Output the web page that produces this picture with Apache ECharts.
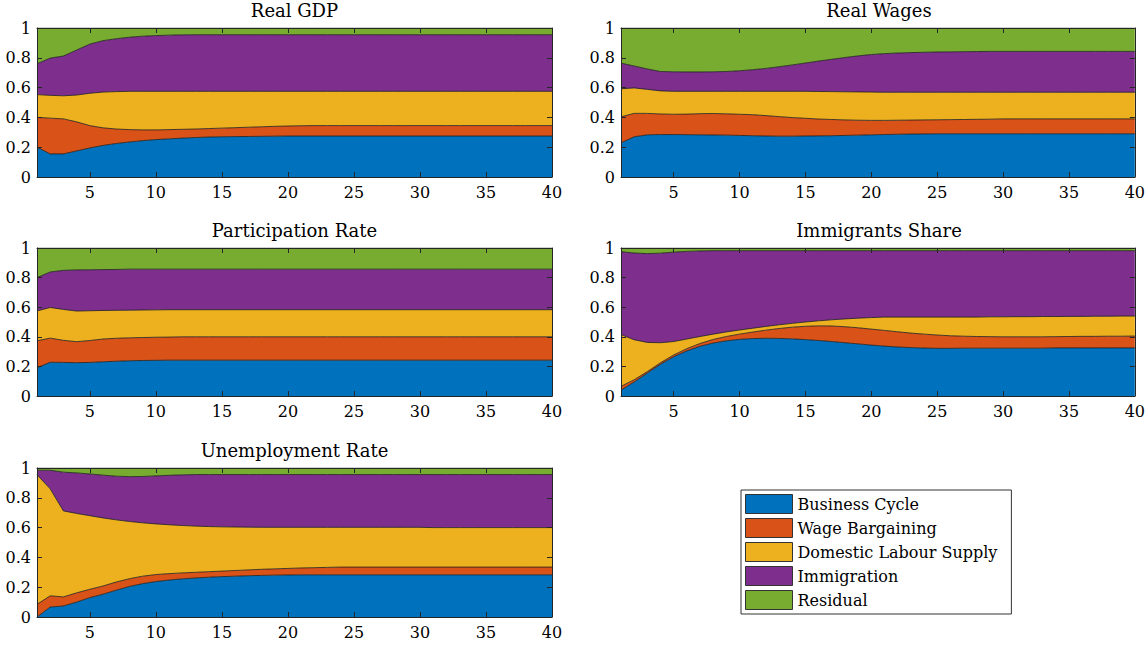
<!DOCTYPE html>
<html>
<head>
<meta charset="utf-8">
<script src="https://cdn.jsdelivr.net/npm/echarts@6/dist/echarts.min.js"></script>
<style>
html,body{margin:0;padding:0;background:#fff;}
#chart{width:1148px;height:649px;}
</style>
</head>
<body>
<div id="chart"></div>
<script>
// ---- categories / labels ----
const periods = [1,2,3,4,5,6,7,8,9,10,11,12,13,14,15,16,17,18,19,20,21,22,23,24,25,26,27,28,29,30,31,32,33,34,35,36,37,38,39,40];
const xTicks = [5,10,15,20,25,30,35,40];
const seriesNames = ['Business Cycle','Wage Bargaining','Domestic Labour Supply','Immigration','Residual'];
const panelTitles = ['Real GDP','Real Wages','Participation Rate','Immigrants Share','Unemployment Rate'];

// ---- Real GDP ----
const gdpBusiness = [0.200,0.155,0.155,0.175,0.195,0.212,0.225,0.235,0.244,0.251,
  0.256,0.261,0.265,0.268,0.270,0.271,0.272,0.273,0.274,0.275,
  0.275,0.275,0.275,0.275,0.275,0.275,0.275,0.275,0.275,0.275,
  0.275,0.275,0.275,0.275,0.275,0.275,0.275,0.275,0.275,0.275];
const gdpWage = [0.200,0.240,0.235,0.195,0.150,0.118,0.097,0.083,0.072,0.065,
  0.062,0.059,0.057,0.057,0.058,0.060,0.062,0.064,0.066,0.067,
  0.069,0.070,0.070,0.070,0.070,0.070,0.070,0.070,0.070,0.070,
  0.070,0.070,0.070,0.070,0.070,0.070,0.070,0.070,0.070,0.070];
const gdpDomestic = [0.153,0.153,0.155,0.180,0.217,0.240,0.251,0.257,0.259,0.259,
  0.257,0.255,0.253,0.250,0.247,0.244,0.241,0.238,0.235,0.233,
  0.231,0.230,0.230,0.230,0.230,0.230,0.230,0.230,0.230,0.230,
  0.230,0.230,0.230,0.230,0.230,0.230,0.230,0.230,0.230,0.230];
const gdpImmigration = [0.207,0.250,0.267,0.302,0.330,0.345,0.355,0.363,0.370,0.374,
  0.377,0.379,0.380,0.380,0.380,0.380,0.380,0.380,0.380,0.380,
  0.380,0.380,0.380,0.380,0.380,0.380,0.380,0.380,0.380,0.380,
  0.380,0.380,0.380,0.380,0.380,0.380,0.380,0.380,0.380,0.380];
const gdpResidual = [0.240,0.202,0.188,0.148,0.108,0.085,0.072,0.062,0.055,0.051,
  0.048,0.046,0.045,0.045,0.045,0.045,0.045,0.045,0.045,0.045,
  0.045,0.045,0.045,0.045,0.045,0.045,0.045,0.045,0.045,0.045,
  0.045,0.045,0.045,0.045,0.045,0.045,0.045,0.045,0.045,0.045];

// ---- Real Wages ----
const wagesBusiness = [0.229,0.270,0.283,0.285,0.285,0.284,0.283,0.282,0.281,0.279,
  0.277,0.275,0.274,0.274,0.275,0.276,0.277,0.279,0.281,0.283,
  0.285,0.287,0.288,0.289,0.290,0.290,0.290,0.290,0.290,0.290,
  0.290,0.290,0.290,0.290,0.290,0.290,0.290,0.290,0.290,0.290];
const wagesWage = [0.175,0.157,0.144,0.138,0.136,0.138,0.142,0.144,0.143,0.142,
  0.141,0.137,0.131,0.125,0.119,0.113,0.109,0.104,0.100,0.097,
  0.095,0.094,0.094,0.094,0.094,0.095,0.096,0.097,0.098,0.100,
  0.100,0.100,0.100,0.100,0.100,0.100,0.100,0.100,0.100,0.100];
const wagesDomestic = [0.188,0.171,0.161,0.155,0.154,0.153,0.150,0.149,0.151,0.154,
  0.157,0.163,0.170,0.176,0.181,0.185,0.187,0.189,0.190,0.190,
  0.189,0.188,0.187,0.186,0.185,0.184,0.183,0.182,0.181,0.179,
  0.179,0.179,0.179,0.179,0.179,0.179,0.179,0.179,0.179,0.179];
const wagesImmigration = [0.172,0.147,0.137,0.130,0.131,0.130,0.130,0.131,0.133,0.138,
  0.145,0.154,0.165,0.177,0.190,0.204,0.217,0.230,0.242,0.252,
  0.259,0.263,0.266,0.268,0.270,0.271,0.272,0.273,0.274,0.274,
  0.274,0.274,0.274,0.274,0.274,0.274,0.274,0.274,0.274,0.274];
const wagesResidual = [0.236,0.255,0.275,0.292,0.294,0.295,0.295,0.294,0.292,0.287,
  0.280,0.271,0.260,0.248,0.235,0.222,0.210,0.198,0.187,0.178,
  0.172,0.168,0.165,0.163,0.161,0.160,0.159,0.158,0.157,0.157,
  0.157,0.157,0.157,0.157,0.157,0.157,0.157,0.157,0.157,0.157];

// ---- Participation Rate ----
const partBusiness = [0.191,0.228,0.227,0.225,0.227,0.231,0.235,0.238,0.240,0.241,
  0.242,0.242,0.242,0.242,0.242,0.242,0.242,0.242,0.242,0.242,
  0.242,0.242,0.242,0.242,0.242,0.242,0.242,0.242,0.242,0.242,
  0.242,0.242,0.242,0.242,0.242,0.242,0.242,0.242,0.242,0.242];
const partWage = [0.182,0.163,0.149,0.142,0.148,0.154,0.155,0.155,0.155,0.156,
  0.156,0.158,0.158,0.158,0.158,0.158,0.158,0.158,0.158,0.158,
  0.158,0.158,0.158,0.158,0.158,0.158,0.158,0.158,0.158,0.158,
  0.158,0.158,0.158,0.158,0.158,0.158,0.158,0.158,0.158,0.158];
const partDomestic = [0.202,0.207,0.209,0.207,0.201,0.193,0.189,0.187,0.186,0.185,
  0.185,0.183,0.183,0.183,0.183,0.183,0.183,0.183,0.183,0.183,
  0.183,0.183,0.183,0.183,0.183,0.183,0.183,0.183,0.183,0.183,
  0.183,0.183,0.183,0.183,0.183,0.183,0.183,0.183,0.183,0.183];
const partImmigration = [0.225,0.240,0.264,0.278,0.277,0.276,0.276,0.277,0.276,0.275,
  0.274,0.274,0.274,0.274,0.274,0.274,0.274,0.274,0.274,0.274,
  0.274,0.274,0.274,0.274,0.274,0.274,0.274,0.274,0.274,0.274,
  0.274,0.274,0.274,0.274,0.274,0.274,0.274,0.274,0.274,0.274];
const partResidual = [0.200,0.162,0.151,0.148,0.147,0.146,0.145,0.143,0.143,0.143,
  0.143,0.143,0.143,0.143,0.143,0.143,0.143,0.143,0.143,0.143,
  0.143,0.143,0.143,0.143,0.143,0.143,0.143,0.143,0.143,0.143,
  0.143,0.143,0.143,0.143,0.143,0.143,0.143,0.143,0.143,0.143];

// ---- Immigrants Share ----
const immBusiness = [0.040,0.095,0.155,0.215,0.265,0.305,0.336,0.358,0.373,0.383,
  0.388,0.390,0.389,0.386,0.381,0.375,0.368,0.360,0.352,0.344,
  0.337,0.331,0.327,0.324,0.322,0.322,0.323,0.323,0.323,0.323,
  0.323,0.323,0.323,0.325,0.325,0.325,0.325,0.325,0.325,0.325];
const immWage = [0.025,0.015,0.010,0.010,0.012,0.015,0.019,0.024,0.029,0.035,
  0.044,0.055,0.067,0.079,0.090,0.099,0.105,0.108,0.109,0.108,
  0.106,0.103,0.098,0.094,0.090,0.085,0.081,0.079,0.078,0.077,
  0.077,0.077,0.077,0.076,0.077,0.078,0.078,0.079,0.079,0.080];
const immDomestic = [0.350,0.270,0.197,0.135,0.091,0.065,0.047,0.036,0.031,0.028,
  0.026,0.025,0.025,0.026,0.029,0.034,0.042,0.053,0.065,0.078,
  0.090,0.099,0.108,0.115,0.121,0.126,0.129,0.131,0.134,0.135,
  0.136,0.136,0.137,0.136,0.136,0.135,0.136,0.135,0.136,0.135];
const immImmigration = [0.560,0.586,0.600,0.605,0.604,0.592,0.578,0.564,0.549,0.536,
  0.524,0.512,0.501,0.491,0.482,0.474,0.467,0.461,0.456,0.452,
  0.449,0.449,0.449,0.449,0.449,0.449,0.449,0.449,0.447,0.447,
  0.446,0.446,0.445,0.445,0.444,0.444,0.443,0.443,0.442,0.442];
const immResidual = [0.025,0.034,0.038,0.035,0.028,0.023,0.020,0.018,0.018,0.018,
  0.018,0.018,0.018,0.018,0.018,0.018,0.018,0.018,0.018,0.018,
  0.018,0.018,0.018,0.018,0.018,0.018,0.018,0.018,0.018,0.018,
  0.018,0.018,0.018,0.018,0.018,0.018,0.018,0.018,0.018,0.018];

// ---- Unemployment Rate ----
const unBusiness = [0.000,0.067,0.074,0.100,0.130,0.153,0.180,0.205,0.224,0.238,
  0.248,0.256,0.262,0.267,0.271,0.274,0.277,0.279,0.281,0.282,
  0.283,0.283,0.283,0.283,0.283,0.283,0.283,0.283,0.283,0.283,
  0.283,0.283,0.283,0.283,0.283,0.283,0.283,0.283,0.283,0.283];
const unWage = [0.085,0.075,0.061,0.062,0.056,0.055,0.055,0.052,0.050,0.047,
  0.043,0.040,0.038,0.037,0.037,0.038,0.039,0.041,0.042,0.044,
  0.046,0.048,0.050,0.052,0.052,0.052,0.052,0.052,0.052,0.052,
  0.052,0.052,0.052,0.052,0.052,0.052,0.052,0.052,0.052,0.052];
const unDomestic = [0.870,0.718,0.577,0.533,0.494,0.457,0.417,0.384,0.358,0.340,
  0.328,0.318,0.310,0.303,0.297,0.292,0.287,0.282,0.279,0.276,
  0.273,0.271,0.269,0.267,0.267,0.267,0.267,0.267,0.267,0.267,
  0.265,0.265,0.265,0.265,0.265,0.265,0.265,0.265,0.265,0.265];
const unImmigration = [0.030,0.125,0.260,0.272,0.280,0.287,0.293,0.301,0.311,0.322,
  0.332,0.340,0.346,0.349,0.351,0.352,0.353,0.354,0.354,0.354,
  0.354,0.354,0.354,0.354,0.354,0.354,0.354,0.354,0.354,0.354,
  0.356,0.356,0.356,0.356,0.356,0.356,0.356,0.356,0.356,0.356];
const unResidual = [0.015,0.015,0.028,0.033,0.040,0.048,0.055,0.058,0.057,0.053,
  0.049,0.046,0.044,0.044,0.044,0.044,0.044,0.044,0.044,0.044,
  0.044,0.044,0.044,0.044,0.044,0.044,0.044,0.044,0.044,0.044,
  0.044,0.044,0.044,0.044,0.044,0.044,0.044,0.044,0.044,0.044];

// ---- assemble ----
const panelData = [
  [gdpBusiness, gdpWage, gdpDomestic, gdpImmigration, gdpResidual],
  [wagesBusiness, wagesWage, wagesDomestic, wagesImmigration, wagesResidual],
  [partBusiness, partWage, partDomestic, partImmigration, partResidual],
  [immBusiness, immWage, immDomestic, immImmigration, immResidual],
  [unBusiness, unWage, unDomestic, unImmigration, unResidual]
];
const colors = ['#0072BD','#D95319','#EDB120','#7E2F8E','#77AC30'];
const FONT = "'DejaVu Serif', serif";
const AX = '#262626';
const grids = [
  {left:37, top:28, width:515, height:149},
  {left:621, top:28, width:516, height:149},
  {left:37, top:248, width:515, height:148},
  {left:621, top:248, width:516, height:148},
  {left:37, top:468, width:515, height:149}
];
const isTick = (idx) => xTicks.indexOf(periods[idx]) >= 0;

const xAxes = [], yAxes = [], series = [], graphics = [];
grids.forEach((g, i) => {
  const common = {gridIndex:i, type:'category', data:periods, boundaryGap:false, z:10,
    axisLine:{show:true, onZero:false, lineStyle:{color:AX, width:1}},
    splitLine:{show:false}};
  xAxes.push(Object.assign({}, common, {position:'bottom',
    axisTick:{show:true, inside:true, length:5, interval:isTick, lineStyle:{color:AX}},
    axisLabel:{show:true, interval:isTick, margin:7, color:'#000', fontFamily:FONT, fontSize:16}}));
  xAxes.push(Object.assign({}, common, {position:'top',
    axisTick:{show:true, inside:true, length:5, interval:isTick, lineStyle:{color:AX}},
    axisLabel:{show:false}}));
  const ycommon = {gridIndex:i, type:'value', min:0, max:1, interval:0.2, z:10,
    axisLine:{show:true, onZero:false, lineStyle:{color:AX, width:1}},
    splitLine:{show:false}};
  yAxes.push(Object.assign({}, ycommon, {position:'left',
    axisTick:{show:true, inside:true, length:5, lineStyle:{color:AX}},
    axisLabel:{show:true, margin:6, color:'#000', fontFamily:FONT, fontSize:16}}));
  yAxes.push(Object.assign({}, ycommon, {position:'right',
    axisTick:{show:true, inside:true, length:5, lineStyle:{color:AX}},
    axisLabel:{show:false}}));
  panelData[i].forEach((arr, k) => {
    series.push({
      type:'line', name:seriesNames[k], xAxisIndex:2*i, yAxisIndex:2*i,
      stack:'panel'+i, symbol:'none', showSymbol:false, smooth:false,
      data: arr,
      lineStyle:{color:'#1a1a1a', width:0.8},
      itemStyle:{color:colors[k]},
      areaStyle:{color:colors[k], opacity:1},
      emphasis:{disabled:true}, silent:true, z:2
    });
  });
  graphics.push({type:'text', x:g.left + g.width/2, y:g.top - 27,
    style:{text:panelTitles[i], fill:'#000', font:'18px ' + FONT, fontSize:18, fontFamily:FONT,
      align:'center', textAlign:'center', verticalAlign:'top', textVerticalAlign:'top'}});
});

const chart = echarts.init(document.getElementById('chart'), null, {renderer:'svg'});
chart.setOption({
  animation:false,
  backgroundColor:'#fff',
  grid: grids.map(g => Object.assign({show:false}, g)),
  xAxis: xAxes,
  yAxis: yAxes,
  series: series,
  graphic: graphics,
  legend: {
    left:741, top:490, orient:'vertical', icon:'rect',
    itemWidth:47, itemHeight:19, itemGap:4,
    padding:[4,14,4,4],
    borderColor:'#333', borderWidth:1, backgroundColor:'#fff',
    selectedMode:false,
    itemStyle:{borderColor:'#333', borderWidth:1},
    textStyle:{fontFamily:FONT, fontSize:16, color:'#000'},
    data: seriesNames
  }
});
</script>
</body>
</html>
